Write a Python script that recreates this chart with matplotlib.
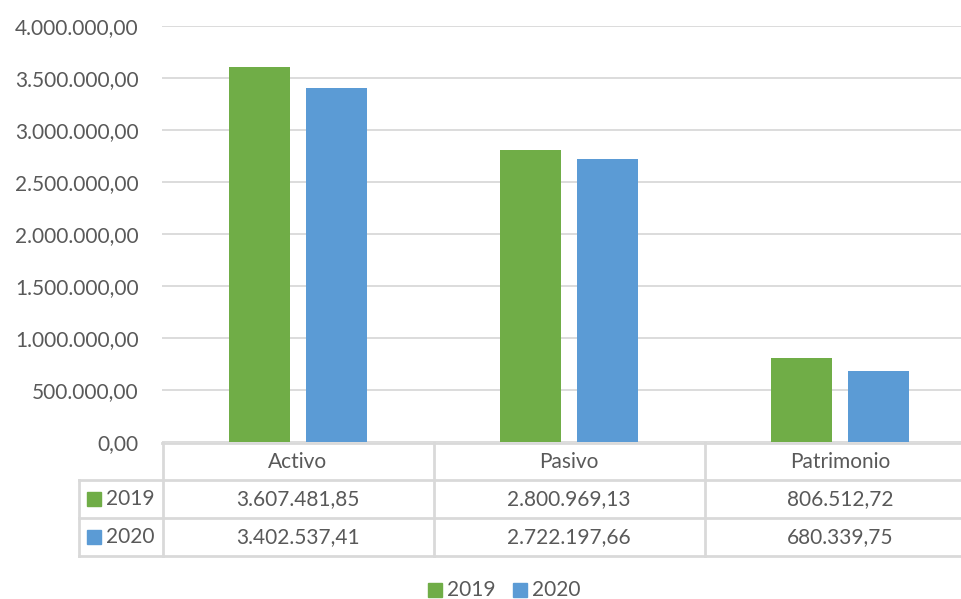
import numpy as np
import matplotlib.pyplot as plt
from matplotlib import transforms
from matplotlib.lines import Line2D
from matplotlib.patches import Rectangle
from matplotlib.ticker import FuncFormatter

plt.rcParams['font.family'] = ['Lato', 'DejaVu Sans']

categories = ['Activo', 'Pasivo', 'Patrimonio']
series_names = ['2019', '2020']
values_2019 = [3607481.85, 2800969.13, 806512.72]
values_2020 = [3402537.41, 2722197.66, 680339.75]

GREEN = '#70AD47'
BLUE = '#5B9BD5'
TXT = '#595959'
GRID = '#D9D9D9'
W, H = 962, 599


def es_fmt(v, pos=None):
    s = f'{v:,.2f}'
    return s.replace(',', 'X').replace('.', ',').replace('X', '.')


def fy(py):
    # pixel row (from top) -> figure fraction
    return 1 - py / H


fig = plt.figure(figsize=(W / 100, H / 100), dpi=100, facecolor='white')
ax = fig.add_axes([162.5 / W, fy(442), 813 / W, (442 - 25.7) / H])

x = np.arange(len(categories))
bw = 0.225
off = 0.142
ax.bar(x - off, values_2019, bw, color=GREEN, zorder=3)
ax.bar(x + off, values_2020, bw, color=BLUE, zorder=3)

ax.set_xlim(-0.5, 2.5)
ax.set_ylim(0, 4000000)
ax.set_yticks(np.arange(0, 4000001, 500000))
ax.yaxis.set_major_formatter(FuncFormatter(es_fmt))
ax.tick_params(axis='y', length=0, pad=17, labelsize=15, labelcolor=TXT)
ax.set_xticks([])
ax.grid(axis='y', color=GRID, lw=1.3, zorder=0)
for s in ax.spines.values():
    s.set_visible(False)

# data table below the plot
bt = transforms.blended_transform_factory(ax.transData, fig.transFigure)
ft = fig.transFigure
rows_y = [443, 480, 518, 556]
left_px = 79
lkw = dict(color=GRID, lw=2, clip_on=False)

# horizontal lines
fig.add_artist(Line2D([162.5 / W, 1], [fy(rows_y[0])] * 2, transform=ft, **lkw))
for py in rows_y[1:]:
    fig.add_artist(Line2D([left_px / W, 1], [fy(py)] * 2, transform=ft, **lkw))
# vertical lines
fig.add_artist(Line2D([left_px / W] * 2, [fy(rows_y[1]), fy(rows_y[3])], transform=ft, **lkw))
for xb in [-0.5, 0.5, 1.5]:
    fig.add_artist(Line2D([xb, xb], [fy(rows_y[0]), fy(rows_y[3])], transform=bt, **lkw))

# header
hy = fy((rows_y[0] + rows_y[1]) / 2)
for i, c in enumerate(categories):
    fig.text(x[i], hy, c, transform=bt, ha='center', va='center', fontsize=15, color=TXT)

# rows
colors = [GREEN, BLUE]
for r, (name, vals) in enumerate(zip(series_names, [values_2019, values_2020])):
    cy = (rows_y[r + 1] + rows_y[r + 2]) / 2
    fig.add_artist(Rectangle((87 / W, fy(cy + 7)), 14 / W, 14 / H, transform=ft,
                             color=colors[r], clip_on=False))
    fig.text(106 / W, fy(cy), name, ha='left', va='center', fontsize=15, color=TXT)
    for i, v in enumerate(vals):
        fig.text(x[i], fy(cy), es_fmt(v), transform=bt, ha='center', va='center',
                 fontsize=15, color=TXT)

# legend at the bottom
ly = 590
for px_sq, px_txt, col, name in [(428, 447, GREEN, '2019'), (513, 532, BLUE, '2020')]:
    fig.add_artist(Rectangle((px_sq / W, fy(ly + 7)), 14 / W, 14 / H, transform=ft,
                             color=col, clip_on=False))
    fig.text(px_txt / W, fy(ly), name, ha='left', va='center', fontsize=15, color=TXT)

fig.savefig('out.png', dpi=100, facecolor='white')
